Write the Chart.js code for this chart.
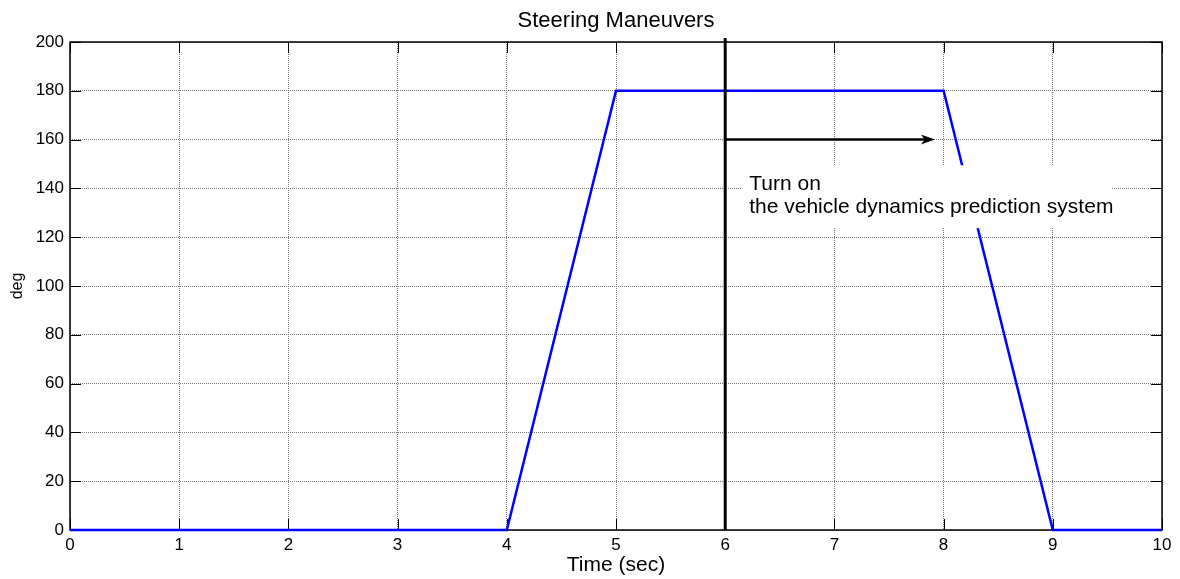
<!DOCTYPE html>
<html>
<head>
<meta charset="utf-8">
<script src="https://cdn.jsdelivr.net/npm/chart.js@4.4.1/dist/chart.umd.min.js"></script>
<style>
html, body { margin: 0; padding: 0; background: #fff; }
</style>
</head>
<body>
<canvas id="myChart" width="1180" height="579"></canvas>
<script>
// steering angle over time
var time = [0, 4, 5, 8, 9, 10];
var steer = [0, 0, 180, 180, 0, 0];
// tick labels
var xTicks = [0, 1, 2, 3, 4, 5, 6, 7, 8, 9, 10];
var yTicks = [0, 20, 40, 60, 80, 100, 120, 140, 160, 180, 200];
// annotation: marker line, arrow and note
var markerTime = 6;
var arrowLevel = 160;
var arrowEnd = 7.92;
var noteLines = ["Turn on", "the vehicle dynamics prediction system"];
var noteBox = [6.15, 149.5, 9.54, 123.7];
var noteText = [[6.22, 139.3], [6.22, 129.8]];

var fontName = "'Liberation Sans', Arial, sans-serif";
Chart.defaults.font.family = fontName;
Chart.defaults.font.size = 17;
Chart.defaults.color = "#000";

var frame = {
  id: 'frame',
  beforeDatasetsDraw: function (chart) {
    var c = chart.ctx, a = chart.chartArea;
    var xs = chart.scales.x, ys = chart.scales.y;
    c.save();
    c.strokeStyle = '#000';
    c.lineWidth = 1;
    c.beginPath();
    xTicks.forEach(function (t) {
      var px = Math.round(xs.getPixelForValue(t)) + 0.5;
      c.moveTo(px, a.bottom); c.lineTo(px, a.bottom - 11);
      c.moveTo(px, a.top); c.lineTo(px, a.top + 11);
    });
    yTicks.forEach(function (t) {
      var py = Math.round(ys.getPixelForValue(t)) + 0.5;
      c.moveTo(a.left, py); c.lineTo(a.left + 11, py);
      c.moveTo(a.right, py); c.lineTo(a.right - 11, py);
    });
    c.stroke();
    c.lineWidth = 1.5;
    c.strokeRect(a.left, a.top, a.right - a.left, a.bottom - a.top);
    // title
    c.fillStyle = '#000';
    c.font = "22px " + fontName;
    c.textAlign = 'center';
    c.textBaseline = 'alphabetic';
    c.fillText('Steering Maneuvers', (a.left + a.right) / 2, 27);
    c.restore();
  },
  afterDatasetsDraw: function (chart) {
    var c = chart.ctx, a = chart.chartArea;
    var xs = chart.scales.x, ys = chart.scales.y;
    c.save();
    // white note box
    var bx1 = xs.getPixelForValue(noteBox[0]), by1 = ys.getPixelForValue(noteBox[1]);
    var bx2 = xs.getPixelForValue(noteBox[2]), by2 = ys.getPixelForValue(noteBox[3]);
    c.fillStyle = '#fff';
    c.fillRect(bx1, by1, bx2 - bx1, by2 - by1);
    c.fillStyle = '#000';
    c.font = "21px " + fontName;
    c.textAlign = 'left';
    c.textBaseline = 'alphabetic';
    noteLines.forEach(function (s, i) {
      c.fillText(s, xs.getPixelForValue(noteText[i][0]), ys.getPixelForValue(noteText[i][1]));
    });
    // vertical marker
    var mx = xs.getPixelForValue(markerTime);
    c.strokeStyle = '#000';
    c.lineWidth = 3;
    c.beginPath();
    c.moveTo(mx, a.top - 4);
    c.lineTo(mx, a.bottom);
    c.stroke();
    // arrow
    var ay = ys.getPixelForValue(arrowLevel);
    var ax = xs.getPixelForValue(arrowEnd);
    c.lineWidth = 2.5;
    c.beginPath();
    c.moveTo(mx, ay);
    c.lineTo(ax - 6, ay);
    c.stroke();
    c.beginPath();
    c.moveTo(ax, ay);
    c.lineTo(ax - 14, ay - 5);
    c.lineTo(ax - 10, ay);
    c.lineTo(ax - 14, ay + 5);
    c.closePath();
    c.fill();
    c.restore();
  }
};

new Chart(document.getElementById("myChart"), {
  type: 'line',
  data: {
    datasets: [
      {
        data: time.map(function (t, i) { return { x: t, y: steer[i] }; }),
        borderColor: "#0000ff",
        borderWidth: 2.5,
        pointRadius: 0,
        fill: false,
        tension: 0,
        clip: false
      }
    ]
  },
  options: {
    responsive: false,
    animation: false,
    devicePixelRatio: 1,
    layout: { padding: { top: 42, right: 18, left: 0, bottom: 0 } },
    plugins: { legend: { display: false }, tooltip: { enabled: false } },
    scales: {
      x: {
        type: 'linear',
        min: 0,
        max: 10,
        afterBuildTicks: function (s) { s.ticks = xTicks.map(function (v) { return { value: v }; }); },
        afterFit: function (s) { s.height = 49; },
        ticks: { padding: 5, maxRotation: 0 },
        grid: { color: '#777', drawTicks: false },
        border: { display: false, dash: [1, 1] },
        title: { display: true, text: 'Time (sec)', font: { size: 21 }, padding: { top: 0, bottom: 1 } }
      },
      y: {
        min: 0,
        max: 200,
        afterBuildTicks: function (s) { s.ticks = yTicks.map(function (v) { return { value: v }; }); },
        afterFit: function (s) { s.width = 70; },
        ticks: { padding: 6 },
        grid: { color: '#777', drawTicks: false },
        border: { display: false, dash: [1, 1] },
        title: { display: true, text: 'deg', font: { size: 16 }, padding: { top: 8, bottom: 0 } }
      }
    }
  },
  plugins: [frame]
});
</script>
</body>
</html>
